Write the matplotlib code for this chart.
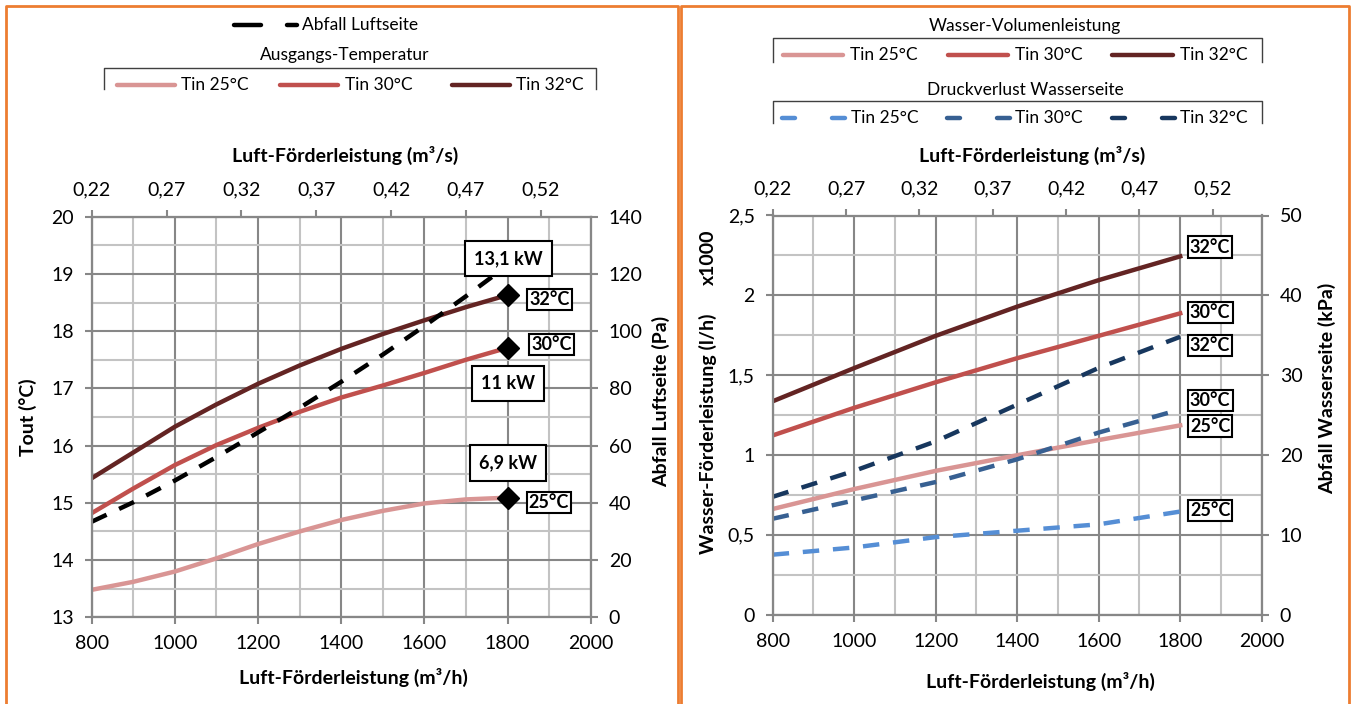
import matplotlib
matplotlib.use('Agg')
import matplotlib.pyplot as plt
from matplotlib.lines import Line2D
from matplotlib.ticker import MultipleLocator, FuncFormatter
import numpy as np

W, H = 1352, 704
plt.rcParams['font.family'] = ['Lato', 'DejaVu Sans']

# ---------------- data ----------------
# Left chart: outlet temperature vs air flow
air_flow = [800, 900, 1000, 1100, 1200, 1300, 1400, 1500, 1600, 1700, 1800]
tout_25 = [13.48, 13.62, 13.80, 14.03, 14.28, 14.50, 14.70, 14.86, 14.99, 15.06, 15.09]
tout_30 = [14.82, 15.25, 15.66, 16.01, 16.31, 16.59, 16.84, 17.05, 17.27, 17.50, 17.71]
tout_32 = [15.43, 15.88, 16.33, 16.72, 17.08, 17.40, 17.69, 17.95, 18.19, 18.42, 18.63]
# air side pressure drop (Pa)
dp_air = [33.4, 40.2, 47.8, 56.0, 64.6, 73.2, 82.3, 91.8, 101.8, 112.2, 123.0]

# capacity labels at 1800 m3/h
cap_x = 1800
cap_labels = ['6,9 kW', '11 kW', '13,1 kW']
tin_labels = ['25°C', '30°C', '32°C']

# Right chart: water flow (x1000 l/h) and water side pressure drop (kPa)
air_flow_w = [800, 1000, 1200, 1400, 1600, 1800]
water_25 = [0.661, 0.786, 0.900, 0.998, 1.093, 1.185]
water_30 = [1.122, 1.295, 1.455, 1.606, 1.746, 1.887]
water_32 = [1.336, 1.544, 1.746, 1.929, 2.095, 2.244]
dpw_25 = [7.5, 8.4, 9.7, 10.5, 11.3, 12.9]
dpw_30 = [12.0, 14.3, 16.6, 19.45, 22.8, 25.7]
dpw_32 = [14.75, 18.0, 21.7, 26.3, 30.9, 34.8]

top_ticks = [0.22, 0.27, 0.32, 0.37, 0.42, 0.47, 0.52]

# ---------------- style ----------------
C25, C30, C32 = '#D99594', '#C0504D', '#632423'
B25, B30, B32 = '#558ED5', '#376092', '#17375E'
MAJ, MIN = '#878787', '#C3C3C3'
ORANGE = '#ED7D31'
LW = 3.2
DASH = (3.7, 3.1)
TICK_FS = 14
LAB_FS = 14
LEG_FS = 12.5

fig = plt.figure(figsize=(W / 100, H / 100), dpi=100)


def P(x, y):
    return (x / W, 1 - y / H)


def ax_rect(x0, y0, x1, y1):
    return [x0 / W, 1 - y1 / H, (x1 - x0) / W, (y1 - y0) / H]


comma = FuncFormatter(lambda v, p: ('%g' % v).replace('.', ','))
comma2 = FuncFormatter(lambda v, p: ('%.2f' % v).replace('.', ','))


def setup(ax, ylim, ymaj, ymin):
    ax.set_xlim(800, 2000)
    ax.xaxis.set_major_locator(MultipleLocator(200))
    ax.xaxis.set_minor_locator(MultipleLocator(100))
    ax.set_ylim(*ylim)
    ax.yaxis.set_major_locator(MultipleLocator(ymaj))
    ax.yaxis.set_minor_locator(MultipleLocator(ymin))
    ax.yaxis.set_major_formatter(comma)
    ax.grid(which='major', color=MAJ, lw=1.5)
    ax.grid(which='minor', color=MIN, lw=1.5)
    ax.set_axisbelow(True)
    for s in ax.spines.values():
        s.set_color(MAJ)
        s.set_linewidth(1.5)
    ax.tick_params(which='major', direction='out', length=5, width=1.5,
                   color=MAJ, labelsize=TICK_FS, pad=8)
    ax.tick_params(which='minor', length=0)


def setup_twins(ax, rlim, rmaj):
    axr = ax.twinx()
    axr.set_ylim(*rlim)
    axr.yaxis.set_major_locator(MultipleLocator(rmaj))
    axr.tick_params(direction='out', length=5, width=1.5, color=MAJ,
                    labelsize=TICK_FS, pad=8)
    axt = ax.twiny()
    axt.set_xlim(0.22, 0.22 + 1200 / 3600)
    axt.set_xticks(top_ticks)
    axt.xaxis.set_major_formatter(comma2)
    axt.tick_params(direction='out', length=5, width=1.5, color=MAJ,
                    labelsize=TICK_FS, pad=8)
    for a in (axr, axt):
        for s in a.spines.values():
            s.set_color(MAJ)
            s.set_linewidth(1.5)
    return axr, axt


box_small = dict(boxstyle='square,pad=0.12', fc='white', ec='black', lw=1.5)
box_big = dict(boxstyle='square,pad=0.5', fc='white', ec='black', lw=1.5)

# ================= LEFT CHART =================
ax1 = fig.add_axes(ax_rect(91.7, 216.7, 590.7, 617.3))
setup(ax1, (13, 20), 1, 0.5)
ax1r, ax1t = setup_twins(ax1, (0, 140), 20)

ax1.plot(air_flow, tout_25, color=C25, lw=LW)
ax1.plot(air_flow, tout_30, color=C30, lw=LW)
ax1.plot(air_flow, tout_32, color=C32, lw=LW)
ax1r.plot(air_flow, dp_air, color='black', lw=LW, dashes=DASH)

ends = [tout_25[-1], tout_30[-1], tout_32[-1]]
ax1t.plot([cap_x] * 3, ends, ls='none', marker='D', ms=11, color='black',
          transform=ax1.transData, clip_on=False)
tin_off = [(41.4, -4.8), (44.3, 3.3), (41.8, -4.1)]
cap_off = [(0, 34.7), (0.4, -36.2), (1, 36.2)]
for i in range(3):
    ax1t.annotate(tin_labels[i], xy=(cap_x, ends[i]), xycoords=ax1.transData,
                  xytext=tin_off[i], textcoords='offset pixels', ha='center',
                  va='center', fontsize=13, fontweight='bold', bbox=box_small,
                  zorder=10)
    ax1t.annotate(cap_labels[i], xy=(cap_x, ends[i]), xycoords=ax1.transData,
                  xytext=cap_off[i], textcoords='offset pixels', ha='center',
                  va='center', fontsize=13, fontweight='bold', bbox=box_big,
                  zorder=10)

# ================= RIGHT CHART =================
ax2 = fig.add_axes(ax_rect(772.7, 215.5, 1261.7, 614.5))
setup(ax2, (0, 2.5), 0.5, 0.25)
ax2r, ax2t = setup_twins(ax2, (0, 50), 10)

ax2.plot(air_flow_w, water_25, color=C25, lw=LW)
ax2.plot(air_flow_w, water_30, color=C30, lw=LW)
ax2.plot(air_flow_w, water_32, color=C32, lw=LW)
ax2r.plot(air_flow_w, dpw_25, color=B25, lw=LW, dashes=DASH)
ax2r.plot(air_flow_w, dpw_30, color=B30, lw=LW, dashes=DASH)
ax2r.plot(air_flow_w, dpw_32, color=B32, lw=LW, dashes=DASH)

r_labels = [(water_32[-1], ax2, '32°C', 9.3), (water_30[-1], ax2, '30°C', 0.9),
            (dpw_32[-1], ax2r, '32°C', -8.9), (dpw_30[-1], ax2r, '30°C', 9.0),
            (water_25[-1], ax2, '25°C', -0.7), (dpw_25[-1], ax2r, '25°C', 0.9)]
for val, a, txt, dy in r_labels:
    ax2t.annotate(txt, xy=(air_flow_w[-1], val), xycoords=a.transData,
                  xytext=(29.9, dy), textcoords='offset pixels', ha='center',
                  va='center', fontsize=13, fontweight='bold', bbox=box_small,
                  zorder=10)

# ================= AXIS TITLES =================
bold = dict(fontsize=LAB_FS, fontweight='bold', ha='center', va='center')
fig.text(*P(345, 155), 'Luft-Förderleistung (m³/s)', **bold)
fig.text(*P(353, 677), 'Luft-Förderleistung (m³/h)', **bold)
fig.text(*P(28, 417), 'Tout (°C)', rotation=90, **bold)
fig.text(*P(661, 401), 'Abfall Luftseite (Pa)', rotation=90, **bold)
fig.text(*P(1032, 155), 'Luft-Förderleistung (m³/s)', **bold)
fig.text(*P(1040, 681), 'Luft-Förderleistung (m³/h)', **bold)
fig.text(*P(708, 434), 'Wasser-Förderleistung (l/h)', rotation=90, **bold)
fig.text(*P(708, 257), 'x1000', rotation=90, **bold)
fig.text(*P(1327, 388), 'Abfall Wasserseite (kPa)', rotation=90, **bold)

# ================= LEGENDS =================
def fline(xs, ys, **kw):
    fig.add_artist(Line2D([x / W for x in xs], [1 - y / H for y in ys],
                          transform=fig.transFigure, **kw))


def seg(x0, x1, y, color):
    fline([x0 + 2, x1 - 2], [y, y], color=color, lw=LW, solid_capstyle='round')


def frame(x0, x1, ytop, ybot):
    fline([x0, x0, x1, x1], [ybot, ytop, ytop, ybot], color='#404040', lw=1.0)


leg = dict(fontsize=LEG_FS, va='center')
# left legend
seg(232, 263, 25, 'black')
seg(285, 299, 25, 'black')
fig.text(*P(302, 25), 'Abfall Luftseite', ha='left', **leg)
fig.text(*P(345, 55), 'Ausgangs-Temperatur', ha='center', **leg)
frame(104, 596, 68, 89)
for (x0, x1, xt), c, lab in zip([(115, 177, 181), (278, 340, 345), (450, 512, 516)],
                                [C25, C30, C32], ['Tin 25°C', 'Tin 30°C', 'Tin 32°C']):
    seg(x0, x1, 85, c)
    fig.text(*P(xt, 85), lab, ha='left', **leg)

# right legends
fig.text(*P(1025, 26), 'Wasser-Volumenleistung', ha='center', **leg)
frame(773, 1262, 38, 62)
for (x0, x1, xt), c, lab in zip([(781, 845, 850), (946, 1010, 1015), (1110, 1175, 1180)],
                                [C25, C30, C32], ['Tin 25°C', 'Tin 30°C', 'Tin 32°C']):
    seg(x0, x1, 55, c)
    fig.text(*P(xt, 55), lab, ha='left', **leg)

fig.text(*P(1025, 90), 'Druckverlust Wasserseite', ha='center', **leg)
frame(773, 1262, 101, 123)
for (x0, xt), c, lab in zip([(780, 851), (945, 1015), (1110, 1180)],
                            [B25, B30, B32], ['Tin 25°C', 'Tin 30°C', 'Tin 32°C']):
    seg(x0, x0 + 17, 118, c)
    seg(x0 + 50, x0 + 67, 118, c)
    fig.text(*P(xt, 118), lab, ha='left', **leg)

# ================= PANEL BORDERS =================
fline([6, 6, 678, 678], [710, 6, 6, 710], color=ORANGE, lw=2)
fline([681.5, 681.5, 1349, 1349], [710, 6, 6, 710], color=ORANGE, lw=2)

fig.savefig('out.png', dpi=100)
